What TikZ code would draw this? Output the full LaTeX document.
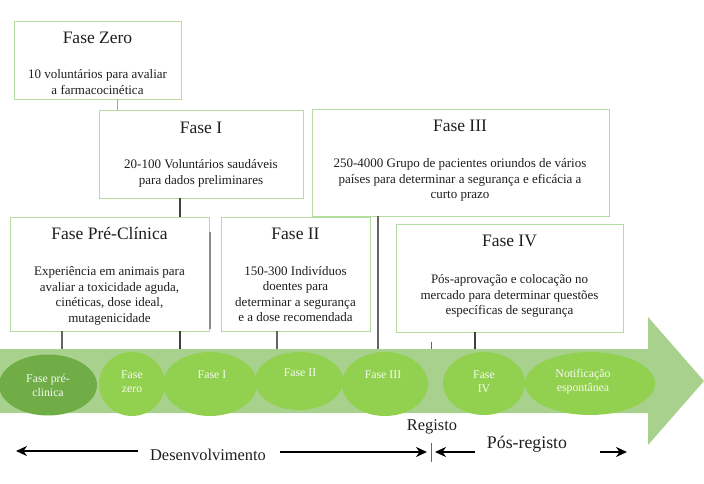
\documentclass[tikz,border=0pt]{standalone}
\usepackage{fontspec}
\setmainfont{Liberation Serif}
\usetikzlibrary{shapes.geometric,arrows.meta}
\definecolor{boxline}{RGB}{181,220,160}
\definecolor{bandgreen}{RGB}{169,209,142}
\definecolor{ellgreen}{RGB}{146,208,80}
\definecolor{elldark}{RGB}{112,173,71}
\definecolor{stemgray}{RGB}{100,100,100}
\definecolor{tealline}{RGB}{112,192,176}
\definecolor{textdark}{RGB}{30,30,30}
\tikzset{
  phasebox/.style={draw=boxline, line width=0.9pt, fill=white, rectangle, inner sep=0pt},
  titletext/.style={font=\fontsize{17.5}{20}\selectfont, text=textdark, inner sep=0pt, anchor=center},
  bodytext/.style={font=\fontsize{13}{15.6}\selectfont, text=textdark, align=center, inner sep=0pt, anchor=center},
  ell/.style={ellipse, fill=ellgreen, inner sep=0pt},
  elltext/.style={font=\fontsize{11.8}{14}\selectfont, text=white!92!ellgreen, align=center, inner sep=0pt},
  stem/.style={draw=stemgray, line width=1.3pt},
  darkstem/.style={draw=black!75, line width=1.6pt},
  bottomtext/.style={font=\fontsize{16.4}{19}\selectfont, text=textdark, inner sep=0pt},
  arr/.style={line width=2.2pt, -{Stealth[length=11pt,width=10pt]}}
}
\begin{document}
\begin{tikzpicture}[x=1pt,y=-1pt]
\useasboundingbox (0,0) rectangle (704,484);

% band (arrow)
\fill[bandgreen] (0,349) -- (648,349) -- (648,317) -- (704,381) -- (648,445) -- (648,413) -- (0,413) -- cycle;

% band anchor coordinates
\coordinate (b62) at (62,349);
\coordinate (b180) at (180,349);
\coordinate (b277) at (277,349);
\coordinate (b378) at (378,349);
\coordinate (b431) at (431,349);
\coordinate (t431) at (431,342);
\coordinate (b475) at (475,349);
\coordinate (g1) at (210,232);
\coordinate (g2) at (210,329);

% boxes
\node[phasebox, minimum width=167pt, minimum height=78pt] (fZ) at (97.5,60) {};
\node[phasebox, minimum width=204pt, minimum height=88pt] (fI) at (201,154) {};
\node[phasebox, minimum width=297pt, minimum height=107pt] (fIII) at (460.5,162.5) {};

% stems behind lower boxes
\draw[darkstem] (fI.south -| b180) -- (b180);
\draw[stem] (fIII.south -| b378) -- (b378);
\draw[draw=tealline, line width=1pt] (fZ.south -| 117,0) -- (fI.north -| 117,0);

\node[phasebox, minimum width=199pt, minimum height=114pt] (fPC) at (109.5,274) {};
\node[phasebox, minimum width=149pt, minimum height=114pt] (fII) at (295.5,274) {};
\node[phasebox, minimum width=227pt, minimum height=108pt] (fIV) at (509.5,278) {};

\draw[draw=black!45, line width=1.4pt] (g1) -- (g2);
\draw[stem] (fPC.south -| b62) -- (b62);
\draw[darkstem] (fPC.south -| b180) -- (b180);
\draw[stem] (fII.south -| b277) -- (b277);
\draw[stem, line width=0.9pt] (t431) -- (b431);
\draw[darkstem] (fIV.south -| b475) -- (b475);

% box texts
\node[titletext] (fZt) at (97.5,38) {Fase Zero};
\node[bodytext] (fZb) at (97.5,82) {10 voluntários para avaliar\\a farmacocinética};
\node[titletext] (fIt) at (201,128) {Fase I};
\node[bodytext] (fIb) at (201,173.5) {20-100 Voluntários saudáveis\\para dados preliminares};
\node[titletext] (fIIIt) at (460,126) {Fase III};
\node[bodytext] (fIIIb) at (460,180) {250-4000 Grupo de pacientes oriundos de vários\\países para determinar a segurança e eficácia a\\curto prazo};
\node[titletext] (fPCt) at (109.5,234) {Fase Pré-Clínica};
\node[bodytext] (fPCb) at (109.5,296) {Experiência em animais para\\avaliar a toxicidade aguda,\\cinéticas, dose ideal,\\mutagenicidade};
\node[titletext] (fIIt) at (295.5,234) {Fase II};
\node[bodytext] (fIIb) at (295.5,294) {150-300 Indivíduos\\doentes para\\determinar a segurança\\e a dose recomendada};
\node[titletext] (fIVt) at (509.5,241) {Fase IV};
\node[bodytext] (fIVb) at (509.5,296) {Pós-aprovação e colocação no\\mercado para determinar questões\\específicas de segurança};

% ellipses
\node[ell, fill=elldark, minimum width=98pt, minimum height=61pt] (e1) at (48,385) {};
\node[ell, minimum width=66pt, minimum height=64pt] (e2) at (132,384) {};
\node[ell, minimum width=94pt, minimum height=64pt] (e3) at (210,384) {};
\node[ell, minimum width=88pt, minimum height=58pt] (e4) at (299,381) {};
\node[ell, minimum width=86pt, minimum height=64pt] (e5) at (385,384) {};
\node[ell, minimum width=82pt, minimum height=63pt] (e6) at (484,383.5) {};
\node[ell, minimum width=130pt, minimum height=63pt] (e7) at (590,383.5) {};

\node[elltext] (e1t) at (48,385) {Fase pré-\\clinica};
\node[elltext] (e2t) at (132,382) {Fase\\zero};
\node[elltext] (e3t) at (212,375) {Fase I};
\node[elltext] (e4t) at (300,373) {Fase II};
\node[elltext] (e5t) at (383,375) {Fase III};
\node[elltext] (e6t) at (484,382) {Fase\\IV};
\node[elltext] (e7t) at (583,382) {Notificação\\espontânea};

% bottom labels and arrows
\node[bottomtext] (dev) at (208,455) {Desenvolvimento};
\node[bottomtext] (reg) at (432,427) {Registo};
\node[bottomtext, font=\fontsize{17.8}{20}\selectfont] (pos) at (527,444) {Pós-registo};

\coordinate (a1s) at (138,451);
\coordinate (a1e) at (16,451);
\coordinate (a2s) at (280,452);
\coordinate (a2e) at (427,452);
\coordinate (a3s) at (475,452);
\coordinate (a3e) at (435,452);
\coordinate (a4s) at (600,452);
\coordinate (a4e) at (627,452);
\coordinate (tk1) at (431,443);
\coordinate (tk2) at (431,462);

\draw[arr] (a1s) -- (a1e);
\draw[arr] (a2s) -- (a2e);
\draw[arr] (a3s) -- (a3e);
\draw[arr] (a4s) -- (a4e);
\draw[draw=black!60, line width=0.9pt] (tk1) -- (tk2);
\end{tikzpicture}
\end{document}
